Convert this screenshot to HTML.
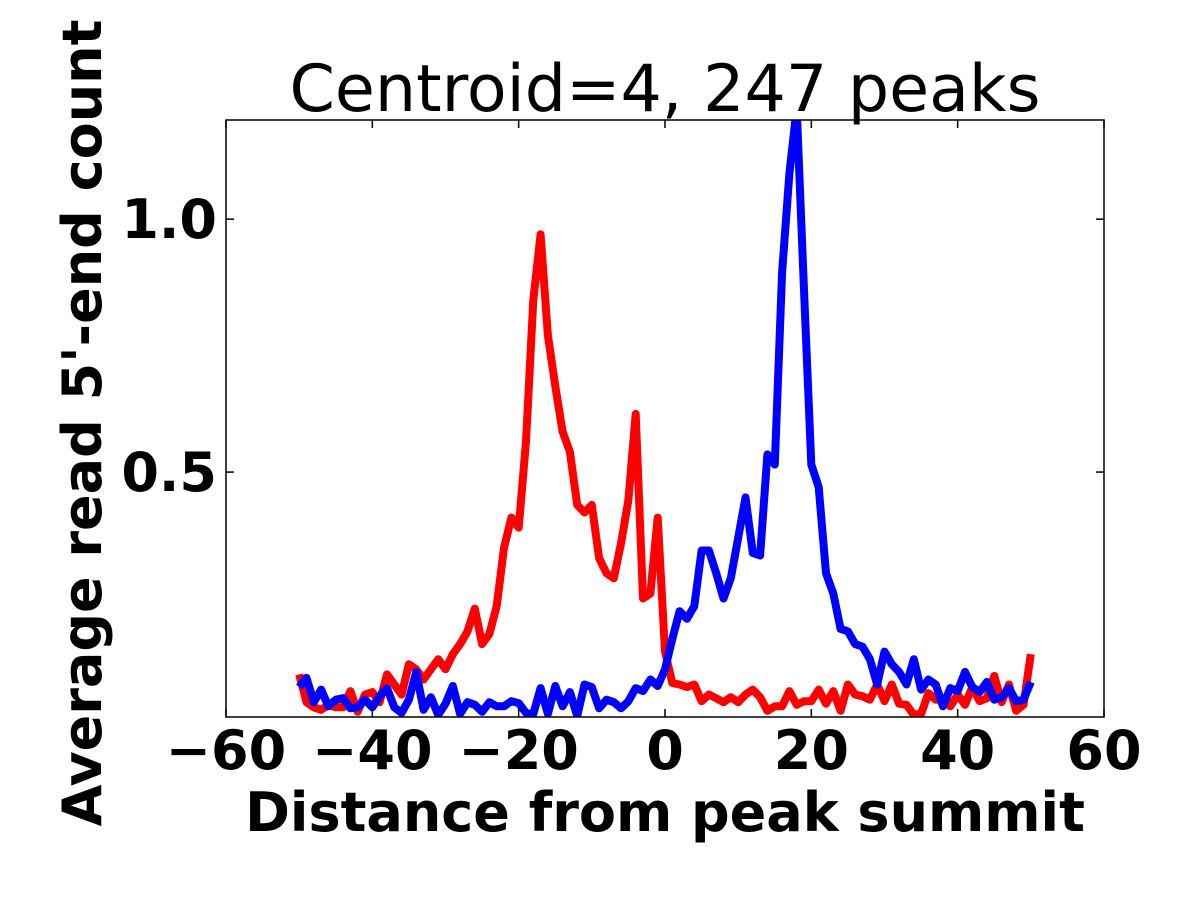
<!DOCTYPE html>
<html><head><meta charset="utf-8"><style>
html,body{margin:0;padding:0;background:#fff;}
svg text{font-family:"DejaVu Sans","Liberation Sans",sans-serif;}
</style></head><body>
<svg id="chart" width="1200" height="900" viewBox="0 0 1200 900">
<rect width="1200" height="900" fill="#fff"/>
<defs><clipPath id="pc"><rect x="226" y="120" width="878" height="597"/></clipPath></defs>
<g id="lines" clip-path="url(#pc)"></g>
<rect x="226" y="120" width="878" height="597" fill="none" stroke="#000" stroke-width="1.5"/>
<g id="ticks"></g>
<text x="665" y="111" font-size="65" text-anchor="middle">Centroid=4, 247 peaks</text>
<text x="665" y="831" font-size="54" font-weight="bold" text-anchor="middle">Distance from peak summit</text>
<text transform="translate(101,423) rotate(-90)" font-size="54" font-weight="bold" text-anchor="middle">Average read 5'-end count</text>
</svg>
<script>
const xs = [];
for (let i = -50; i <= 50; i++) xs.push(i);
const redValues = [0.10,0.045,0.035,0.03,0.04,0.035,0.035,0.067,0.026,0.06,0.065,0.045,0.10,0.08,0.06,0.12,0.11,0.09,0.11,0.13,0.11,0.14,0.16,0.185,0.23,0.16,0.18,0.235,0.35,0.41,0.39,0.56,0.84,0.97,0.77,0.67,0.58,0.54,0.435,0.42,0.435,0.33,0.30,0.29,0.36,0.445,0.615,0.25,0.26,0.41,0.145,0.083,0.08,0.075,0.08,0.047,0.06,0.053,0.045,0.055,0.045,0.06,0.07,0.055,0.028,0.037,0.037,0.067,0.04,0.047,0.047,0.07,0.042,0.067,0.028,0.08,0.06,0.057,0.05,0.08,0.047,0.08,0.042,0.04,0.02,0.022,0.063,0.05,0.05,0.037,0.06,0.04,0.075,0.047,0.053,0.097,0.045,0.08,0.028,0.04,0.14];
const blueValues = [0.075,0.093,0.045,0.07,0.037,0.05,0.053,0.033,0.035,0.05,0.035,0.057,0.073,0.035,0.024,0.05,0.105,0.03,0.055,0.02,0.042,0.077,0.022,0.045,0.04,0.026,0.045,0.037,0.037,0.047,0.043,0.024,0.022,0.073,0.022,0.077,0.037,0.065,0.018,0.08,0.075,0.033,0.05,0.045,0.033,0.047,0.073,0.067,0.09,0.077,0.11,0.17,0.225,0.21,0.235,0.345,0.345,0.30,0.25,0.29,0.37,0.45,0.34,0.335,0.535,0.515,0.895,1.09,1.22,0.86,0.515,0.47,0.30,0.26,0.19,0.185,0.16,0.155,0.13,0.08,0.145,0.12,0.105,0.08,0.13,0.07,0.09,0.08,0.037,0.073,0.067,0.105,0.075,0.065,0.085,0.05,0.055,0.073,0.047,0.05,0.085];
const xTicks = [-60,-40,-20,0,20,40,60];
const xTickLabels = ["\u221260","\u221240","\u221220","0","20","40","60"];
const yTicks = [0.5,1.0];
const yTickLabels = ["0.5","1.0"];

const X0=226,X1=1104,Y0=717,Y1=120, xmin=-60,xmax=60,ymin=0.0158,ymax=1.196;
const sx = v => X0 + (v-xmin)/(xmax-xmin)*(X1-X0);
const sy = v => Y0 - (v-ymin)/(ymax-ymin)*(Y0-Y1);
const NS="http://www.w3.org/2000/svg";
const lines=document.getElementById('lines');
function addLine(vals,color,name){
  const p=document.createElementNS(NS,'polyline');
  p.setAttribute('points',xs.map((x,i)=>sx(x).toFixed(1)+','+sy(vals[i]).toFixed(1)).join(' '));
  p.setAttribute('fill','none');p.setAttribute('stroke',color);p.setAttribute('stroke-width','8');
  p.setAttribute('stroke-linejoin','round');
  
  
  lines.appendChild(p);
}
addLine(redValues,'#ff0000','red-series-line');
addLine(blueValues,'#0000ff','blue-series-line');
const tk=document.getElementById('ticks');
xTicks.forEach((t,i)=>{
  const x=sx(t);
  [[Y0,Y0-8],[Y1,Y1+8]].forEach(([a,b])=>{
    const l=document.createElementNS(NS,'line');
    l.setAttribute('x1',x);l.setAttribute('x2',x);l.setAttribute('y1',a);l.setAttribute('y2',b);
    l.setAttribute('stroke','#000');l.setAttribute('stroke-width','1.5');
    
    
    tk.appendChild(l);
  });
  const tx=document.createElementNS(NS,'text');
  tx.setAttribute('x',x);tx.setAttribute('y',769);tx.setAttribute('text-anchor','middle');
  tx.setAttribute('font-size','54');tx.setAttribute('font-weight','bold');
  tx.textContent=xTickLabels[i];
  
  
  tk.appendChild(tx);
});
yTicks.forEach((t,i)=>{
  const y=sy(t);
  [[X0,X0+8],[X1,X1-8]].forEach(([a,b])=>{
    const l=document.createElementNS(NS,'line');
    l.setAttribute('x1',a);l.setAttribute('x2',b);l.setAttribute('y1',y);l.setAttribute('y2',y);
    l.setAttribute('stroke','#000');l.setAttribute('stroke-width','1.5');
    
    
    tk.appendChild(l);
  });
  const tx=document.createElementNS(NS,'text');
  tx.setAttribute('x',217);tx.setAttribute('y',y+19);tx.setAttribute('text-anchor','end');
  tx.setAttribute('font-size','54');tx.setAttribute('font-weight','bold');
  tx.textContent=yTickLabels[i];
  
  
  tk.appendChild(tx);
});
</script>
</body></html>
